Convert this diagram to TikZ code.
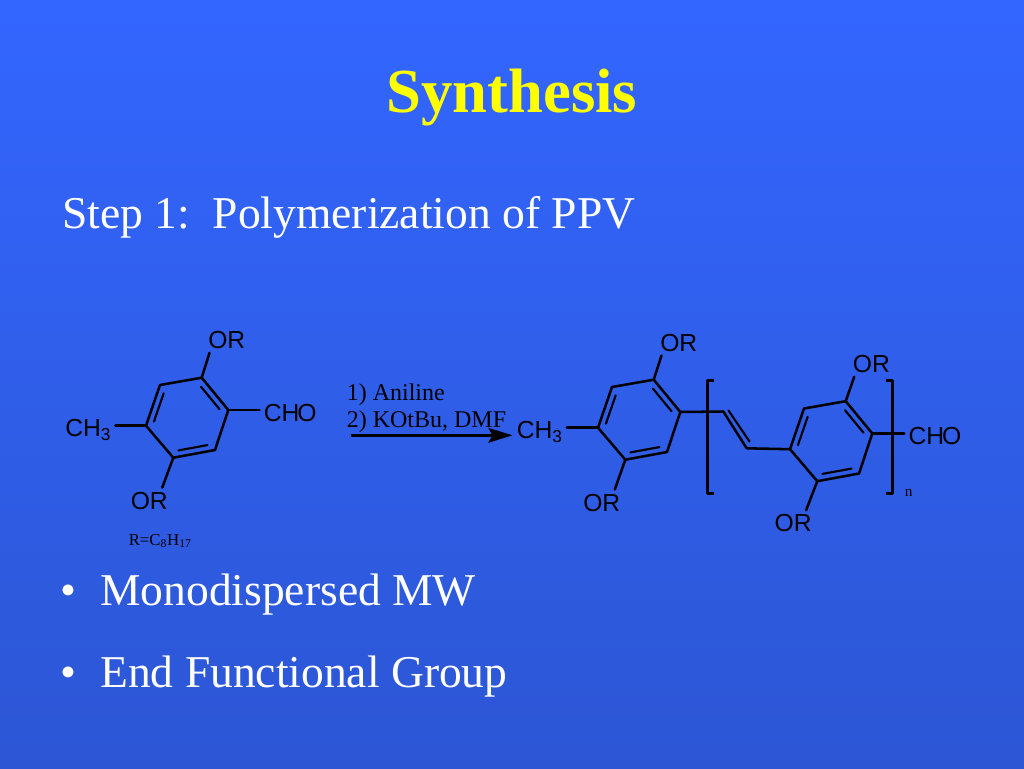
\documentclass[tikz,border=0pt]{standalone}
\usepackage{fontspec}
\usepackage{tikz}
\setmainfont{Liberation Serif}
\newfontfamily\chemfont{Liberation Sans}
\usetikzlibrary{arrows.meta,calc}
\definecolor{slidetop}{RGB}{51,102,255}
\definecolor{slidebottom}{RGB}{44,86,212}
\definecolor{slideyellow}{RGB}{255,255,0}
\tikzset{
  bond/.style={line width=1.9pt,line cap=round,line join=round},
  innerbond/.style={line width=1.6pt,line cap=round},
  chemlabel/.style={anchor=base west,inner sep=3pt,font=\chemfont\fontsize{18.5}{20}\selectfont},
  reagent/.style={anchor=base west,inner sep=0pt,font=\fontsize{18}{21}\selectfont},
  bodytext/.style={anchor=base west,inner sep=0pt,text=white,font=\fontsize{34.15}{40}\selectfont},
}

\begin{document}
\begin{tikzpicture}[x=0.75pt,y=0.75pt,yscale=-1]
\useasboundingbox (0,0) rectangle (1024,768);

%Shape: Background
\fill [top color=slidetop,bottom color=slidebottom] (0,0) rectangle (1024,768);

% Text Node
\node [anchor=base,inner sep=0pt,text=slideyellow,font=\bfseries\fontsize{47}{54}\selectfont] (title) at (512,112) {Synthesis};
% Text Node
\node [bodytext] (stepline) at (62,228) {Step 1:\ \ Polymerization of PPV};
% Text Node
\node [bodytext] (bulletA) at (60,605) {•};
\node [bodytext] (itemA) at (100,605) {Monodispersed MW};
% Text Node
\node [bodytext] (bulletB) at (60,687) {•};
\node [bodytext] (itemB) at (100,687) {End Functional Group};

%Rings: atoms 1 top, 2 upper left, 3 left, 4 lower, 5 lower right, 6 right
\foreach \r/\dx/\dy in {a/0/0,b/452/2,c/644/23.5}{
  \coordinate (\r1) at (201.7+\dx,377.7+\dy);
  \coordinate (\r2) at (160+\dx,385+\dy);
  \coordinate (\r3) at (146+\dx,425.7+\dy);
  \coordinate (\r4) at (173.3+\dx,457.7+\dy);
  \coordinate (\r5) at (215+\dx,450+\dy);
  \coordinate (\r6) at (228.3+\dx,410+\dy);
  \coordinate (\r0) at (187+\dx,418+\dy);
  \draw [bond] (\r1) -- (\r2) -- (\r3) -- (\r4) -- (\r5) -- (\r6) -- cycle;
  %inner lines of the double bonds
  \draw [innerbond] ($($(\r1)!.08!(\r6)$)!.17!(\r0)$) -- ($($(\r6)!.08!(\r1)$)!.17!(\r0)$);
  \draw [innerbond] ($($(\r2)!.08!(\r3)$)!.17!(\r0)$) -- ($($(\r3)!.08!(\r2)$)!.17!(\r0)$);
  \draw [innerbond] ($($(\r4)!.08!(\r5)$)!.17!(\r0)$) -- ($($(\r5)!.08!(\r4)$)!.17!(\r0)$);
}

% Text Node
\node [chemlabel] (orTopA) at (204,348.3) {OR};
\node [chemlabel] (orLowA) at (126.5,509) {OR};
\node [chemlabel] (methylA) at (61,436) {CH\textsubscript{3}};
\node [chemlabel] (formylA) at (259.5,421) {CH\kern-1.5pt O};
\node [anchor=base west,inner sep=0pt,font=\fontsize{12.6}{14}\selectfont] (sidechain) at (128.5,545) {R=C\textsubscript{8}H\textsubscript{17}};

% Text Node
\node [chemlabel] (orTopB) at (656,351) {OR};
\node [chemlabel] (orLowB) at (579,511) {OR};
\node [chemlabel] (methylB) at (512.5,438.3) {CH\textsubscript{3}};
% Text Node
\node [chemlabel] (orTopC) at (848.7,372.3) {OR};
\node [chemlabel] (orLowC) at (770.3,531.7) {OR};
\node [chemlabel] (formylC) at (904.3,444.3) {CH\kern-1.5pt O};
\node [anchor=base west,inner sep=0pt,font=\fontsize{11.5}{13}\selectfont] (repeatn) at (904.5,496) {n};

%Substituent bonds
\draw [bond] (a1) -- (orTopA.217);
\draw [bond] (a4) -- (orLowA.45);
\draw [bond] (a3) -- (a3 -| methylA.east);
\draw [bond] (a6) -- (a6 -| formylA.west);
\draw [bond] (b1) -- (orTopB.217);
\draw [bond] (b4) -- (orLowB.45);
\draw [bond] (b3) -- (b3 -| methylB.east);
\draw [bond] (c1) -- (orTopC.217);
\draw [bond] (c4) -- (orLowC.45);
\draw [bond] (c6) -- (c6 -| formylC.west);

%Vinylene link
\coordinate (vinylA) at (723.3,411.5);
\coordinate (vinylB) at (746.7,448.3);
\draw [bond] (b6) -- (vinylA) -- (vinylB) -- (c3);
\draw [innerbond] (728.5,410.5) -- (749.5,441.5);

%Brackets
\draw [bond,line cap=butt] (714,380.7) -- (707.7,380.7) -- (707.7,493.3) -- (714,493.3);
\draw [bond,line cap=butt] (885.7,380.7) -- (892.7,380.7) -- (892.7,493.3) -- (885.7,493.3);

%Reaction arrow
\coordinate (arrowstart) at (351,435.3);
\draw [line width=2.2pt,-{Stealth[length=18pt,width=11pt,inset=3pt]}] (arrowstart) -- (arrowstart -| methylB.west);
% Text Node
\node [reagent] (stepone) at (346.5,400.7) {1) Aniline};
\node [reagent] (steptwo) at (346.5,427) {2) KOtBu, DMF};

\end{tikzpicture}
\end{document}
